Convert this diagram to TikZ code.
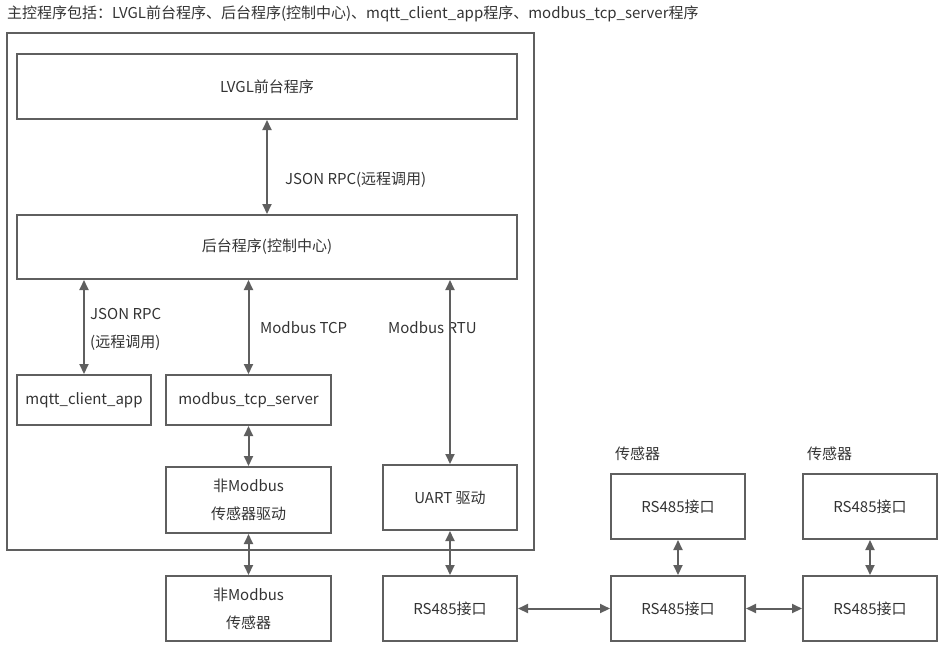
\documentclass[tikz,border=0pt]{standalone}
\usepackage{fontspec}
\setmainfont{Noto Sans CJK SC}
\usetikzlibrary{arrows.meta}
\definecolor{linegray}{HTML}{5F5F5F}
\definecolor{textgray}{HTML}{333333}
\begin{document}
\begin{tikzpicture}[
    x=1pt,y=-1pt,
    box/.style={draw=linegray,line width=2pt,inner sep=0pt,align=center,text=textgray,font=\fontsize{15}{28}\selectfont},
    lbl/.style={anchor=west,inner sep=0pt,text=textgray,font=\fontsize{15}{28}\selectfont},
    link/.style={<->,draw=linegray,line width=2pt},
    >={Triangle[length=10pt,width=9pt]}
]
\useasboundingbox (0,0) rectangle (942,649);
\node[lbl] (title) at (7,14) {主控程序包括：LVGL前台程序、后台程序(控制中心)、mqtt\_client\_app程序、modbus\_tcp\_server程序};

% main controller frame
\draw[linegray,line width=2pt] (7,33) rectangle (534,550);

\node[box,minimum width=500,minimum height=65] (lvgl) at (267,86.5) {LVGL前台程序};
\node[box,minimum width=500,minimum height=64] (backend) at (267,247) {后台程序(控制中心)};
\node[box,minimum width=134,minimum height=50] (mqtt) at (84,400) {mqtt\_client\_app};
\node[box,minimum width=165,minimum height=50] (tcpsrv) at (248.5,400) {modbus\_tcp\_server};
\node[box,minimum width=165,minimum height=66] (drv) at (248.5,500) {非Modbus\\传感器驱动};
\node[box,minimum width=134,minimum height=65] (uart) at (450,497.5) {UART 驱动};

\node[box,minimum width=165,minimum height=65] (sensor) at (248.5,608.5) {非Modbus\\传感器};
\node[box,minimum width=134,minimum height=65] (rsA) at (450,608.5) {RS485接口};
\node[box,minimum width=134,minimum height=65] (rsB) at (678,608.5) {RS485接口};
\node[box,minimum width=134,minimum height=65] (rsBtop) at (678,506.5) {RS485接口};
\node[box,minimum width=134,minimum height=65] (rsC) at (870,608.5) {RS485接口};
\node[box,minimum width=134,minimum height=65] (rsCtop) at (870,506.5) {RS485接口};
\node[lbl] (senB) at (615,454) {传感器};
\node[lbl] (senC) at (807,454) {传感器};

\node[lbl] (rpc) at (285,180) {JSON RPC(远程调用)};
\node[lbl,align=left] (rpc2) at (90,329) {JSON RPC\\(远程调用)};
\node[lbl] (tcp) at (260,328) {Modbus TCP};
\node[lbl] (rtu) at (388,328) {Modbus RTU};

\draw[link] (lvgl) -- (backend);
\draw[link] (mqtt.north) -- (mqtt.north |- backend.south);
\draw[link] (tcpsrv.north) -- (tcpsrv.north |- backend.south);
\draw[link] (uart.north) -- (uart.north |- backend.south);
\draw[link] (tcpsrv) -- (drv);
\draw[link] (drv) -- (sensor);
\draw[link] (uart) -- (rsA);
\draw[link] (rsA) -- (rsB);
\draw[link] (rsB) -- (rsC);
\draw[link] (rsBtop) -- (rsB);
\draw[link] (rsCtop) -- (rsC);
\end{tikzpicture}
\end{document}
